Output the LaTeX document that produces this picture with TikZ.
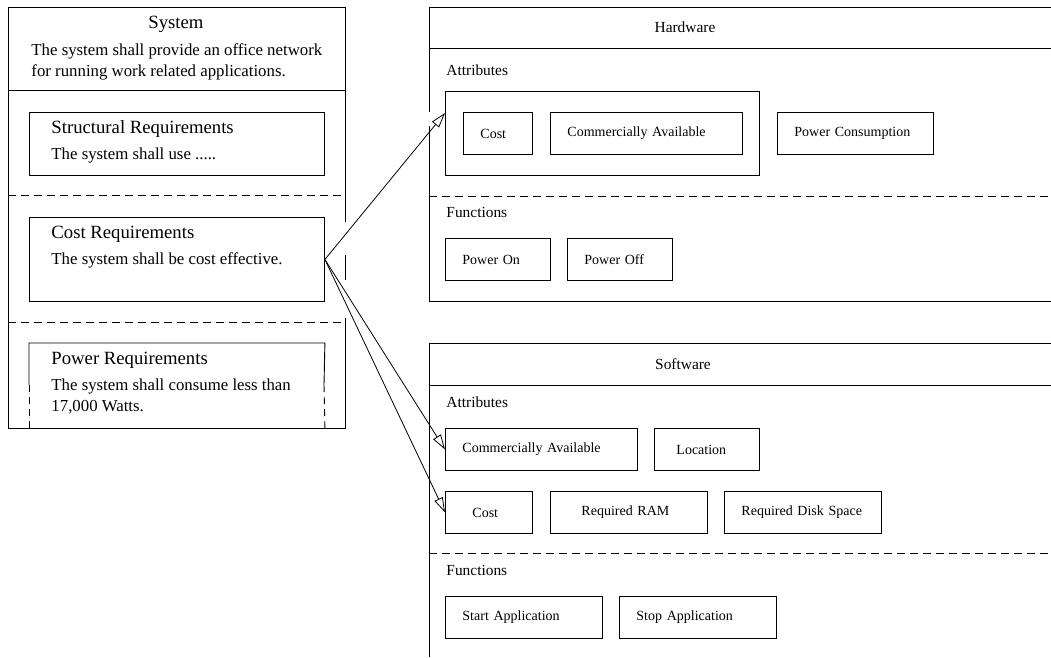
\documentclass[tikz,border=0pt]{standalone}
\usepackage{fontspec}
\setmainfont{Liberation Serif}
\usetikzlibrary{arrows.meta,calc}
\begin{document}
\begin{tikzpicture}[x=1pt,y=-1pt,
  line width=0.9pt,
  sepline/.style={dash pattern=on 8pt off 5pt},
  reqbox/.style={draw, anchor=north west, inner sep=0pt, minimum width=295pt},
  bigtitle/.style={anchor=base, inner sep=0pt, font=\fontsize{18.7}{22}\selectfont},
  reqtitle/.style={anchor=base west, inner sep=0pt, font=\fontsize{18.7}{22}\selectfont},
  reqbody/.style={anchor=base west, inner sep=0pt, font=\fontsize{16.8}{21}\selectfont},
  lbl/.style={anchor=base west, inner sep=0pt, font=\fontsize{15.4}{18}\selectfont},
  ttl/.style={anchor=base, inner sep=0pt, font=\fontsize{15.4}{18}\selectfont},
  item/.style={draw, anchor=north west, minimum height=42pt, inner ysep=0pt, inner xsep=17pt, align=left, font=\fontsize{14}{16}\selectfont},
  link/.style={-{Triangle[open,length=15pt,width=9pt]}, line width=0.8pt}
]
\fill[white] (0,0) rectangle (1051,657);
\useasboundingbox (0,0) rectangle (1051,657);

% ---------- System container ----------
\draw (345,222) -- (345,7) -- (8,7) -- (8,428) -- (345,428) -- (345,318);
\draw (345,255) -- (345,280);
\draw (8,90) -- (345,90);
\draw[sepline] (8,195) -- (345,195);
\draw[sepline] (8,322) -- (345,322);
\node[bigtitle] (systitle) at (176,28) {System};
\node[reqbody] (systxta) at (31,55) {The system shall provide an office network};
\node[reqbody] (systxtb) at (31,76) {for running work related applications.};

\node[reqbox, minimum height=63pt] (struct) at (29,112) {};
\node[reqtitle] (structt) at (51,133) {Structural Requirements};
\node[reqbody] (structb) at (51,159) {The system shall use .....};

\node[reqbox, minimum height=84pt] (costreq) at (29,217) {};
\node[reqtitle] (costt) at (51,238) {Cost Requirements};
\node[reqbody] (costb) at (51,264) {The system shall be cost effective.};

\node[anchor=north west, inner sep=0pt, minimum width=295pt, minimum height=85pt] (power) at (29,343) {};
\draw (29,385) -- (power.north west) -- (power.north east) -- (324,385);
\draw[dash pattern=on 7pt off 5pt] (29,385) -- (power.south west);
\draw[dash pattern=on 7pt off 5pt] (324,385) -- (power.south east);
\node[reqtitle] (powert) at (51,364) {Power Requirements};
\node[reqbody] (powerba) at (51,390) {The system shall consume less than};
\node[reqbody] (powerbb) at (51,411) {17,000 Watts.};

% ---------- Hardware container ----------
\draw (429,112) -- (429,7) -- (1051,7);
\draw (429,126) -- (429,301) -- (1051,301);
\draw (429,48) -- (1051,48);
\draw[sepline] (429,196) -- (1051,196);
\node[ttl] (hwtitle) at (685,32) {Hardware};
\node[lbl] (hwattr) at (446,75) {Attributes};
\node[lbl] (hwfunc) at (446,217) {Functions};
\node[draw, anchor=north west, inner sep=0pt, minimum width=314pt, minimum height=84pt] (hwgroup) at (445,91) {};
\node[item, text width=35pt] (hwcost) at (463,112) {Cost};
\node[item, text width=158pt] (hwca) at (550,112) {Commercially Available};
\node[item, text width=122pt] (hwpc) at (777,112) {Power Consumption};
\node[item, text width=71pt] (hwon) at (445,238) {Power On};
\node[item, text width=71pt] (hwoff) at (567,238) {Power Off};

% ---------- Software container ----------
\draw (429,657) -- (429,343) -- (1051,343);
\draw (429,385) -- (1051,385);
\draw[sepline] (429,553) -- (1051,553);
\node[ttl] (swtitle) at (683,369) {Software};
\node[lbl] (swattr) at (446,407) {Attributes};
\node[lbl] (swfunc) at (446,575) {Functions};
\node[item, text width=158pt] (swca) at (445,428) {Commercially Available};
\node[item, inner xsep=22pt, text width=61pt] (swloc) at (654,428) {Location};
\node[item, inner xsep=27pt, text width=33pt] (swcost) at (445,491) {Cost};
\node[item, inner xsep=31pt, text width=95pt] (swram) at (550,491) {Required RAM};
\node[item, text width=123pt] (swdisk) at (724,491) {Required Disk Space};
\node[item, text width=123pt] (swstart) at (445,596) {Start Application};
\node[item, text width=123pt] (swstop) at (619,596) {Stop Application};

% ---------- Connectors ----------
\coordinate (hwin) at ($(hwgroup.north west)+(0,22)$);
\draw[link] (costreq.east) -- (hwin);
\draw[link] (costreq.east) -- (swca.west);
\draw[link] (costreq.east) -- (swcost.west);
\end{tikzpicture}
\end{document}
